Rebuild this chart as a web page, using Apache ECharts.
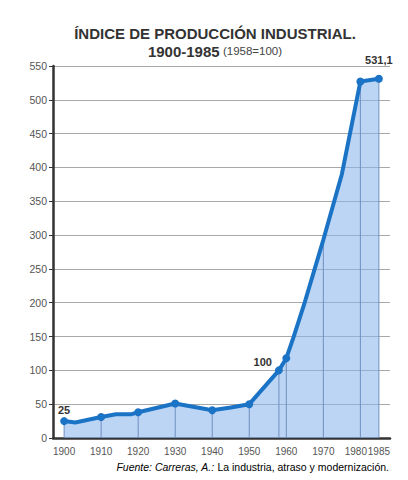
<!DOCTYPE html>
<html>
<head>
<meta charset="utf-8">
<script src="https://cdn.jsdelivr.net/npm/echarts@6/dist/echarts.min.js"></script>
<style>
html,body{margin:0;padding:0;background:#fff;}
#chart{width:408px;height:480px;}
</style>
</head>
<body>
<div id="chart"></div>
<script>
// ---- data ----
var years   = [1900, 1903, 1910, 1914, 1918, 1920, 1930, 1940, 1945, 1950, 1958, 1960, 1962, 1965, 1970, 1975, 1980, 1985];
var values  = [25,   23,   31,   35,   35,   38,   51,   41,   45,   50,   100,  118,  150,  201,  293,  390,  527,  531.1];
var markers = [1,    0,    1,    0,    0,    1,    1,    1,    0,    1,    1,    1,    0,    0,    0,    0,    1,    1];
var labeledYears = [1900, 1958, 1985];
var tickYears = [1900, 1910, 1920, 1930, 1940, 1950, 1960, 1970, 1980, 1985];
var yMin = 0, yMax = 550, yStep = 50;
var titleText = 'ÍNDICE DE PRODUCCIÓN INDUSTRIAL.';
var subtitleMain = '1900-1985';
var subtitleNote = '(1958=100)';
var sourceItalic = 'Fuente: Carreras, A.:';
var sourceText = 'La industria, atraso y modernización.';

// ---- build ----
var FONT = "'Liberation Sans', Arial, Helvetica, sans-serif";
var LINE = '#1b73c6';

var pts = years.map(function (y, i) { return [y, values[i]]; });

var lineData = years.map(function (y, i) {
  var item = { value: [y, values[i]] };
  item.symbol = markers[i] ? 'circle' : 'none';
  if (labeledYears.indexOf(y) >= 0) {
    var lbl = { show: true, fontFamily: FONT, fontWeight: 'bold', fontSize: 11, color: '#333',
      formatter: function (p) { return String(p.value[1]).replace('.', ','); } };
    if (y === 1958) { lbl.position = 'left'; lbl.distance = 3; lbl.offset = [0, -8]; }
    else if (y === 1985) { lbl.position = 'top'; lbl.distance = 9; }
    else { lbl.position = 'top'; lbl.distance = 2; }
    item.label = lbl;
  }
  return item;
});

var dropData = [];
years.forEach(function (y, i) {
  if (markers[i] || tickYears.indexOf(y) >= 0) dropData.push([y, values[i]]);
});

var chart = echarts.init(document.getElementById('chart'), null, { renderer: 'svg' });
chart.setOption({
  animation: false,
  backgroundColor: '#fff',
  textStyle: { fontFamily: FONT },
  grid: { left: 53, right: 18, top: 66, bottom: 42, containLabel: false },
  xAxis: {
    type: 'value', min: 1897, max: 1988,
    axisLine: { show: true, onZero: false, lineStyle: { color: '#333', width: 2.5 } },
    axisTick: { show: false },
    splitLine: { show: false },
    axisLabel: {
      customValues: tickYears, margin: 8, fontSize: 10, color: '#555', fontFamily: FONT,
      formatter: function (v) { return v === 1980 ? '{l|' + v + '}' : '{n|' + v + '}'; },
      rich: {
        l: { fontSize: 10, color: '#555', fontFamily: FONT, padding: [0, 9, 0, 0] },
        n: { fontSize: 10, color: '#555', fontFamily: FONT }
      }
    }
  },
  yAxis: {
    type: 'value', min: yMin, max: yMax, interval: yStep,
    axisLine: { show: true, lineStyle: { color: '#333', width: 2.5 } },
    axisTick: { show: true, length: 4, lineStyle: { color: '#333', width: 1 } },
    axisLabel: { fontSize: 10.5, color: '#555', margin: 6, fontFamily: FONT },
    splitLine: { show: true, lineStyle: { color: '#a8a8a8', width: 1 } }
  },
  series: [
    {
      type: 'line', data: pts, symbol: 'none', silent: true,
      lineStyle: { width: 0 },
      areaStyle: { color: 'rgba(135,180,235,0.8)', origin: 'start' },
      z: 2
    },
    {
      type: 'bar', data: dropData, barWidth: 1, silent: true,
      itemStyle: { color: '#6f8fbf' },
      z: 3
    },
    {
      type: 'line', data: lineData, symbolSize: 8,
      itemStyle: { color: LINE },
      lineStyle: { color: LINE, width: 4 },
      z: 4
    }
  ],
  graphic: [
    { type: 'text', x: 215, y: 33, style: { text: titleText, font: 'bold 15px ' + FONT, fill: '#333', textAlign: 'center', textVerticalAlign: 'middle' } },
    { type: 'text', x: 215, y: 51, style: {
        text: '{b|' + subtitleMain + '} {c|' + subtitleNote + '}',
        textAlign: 'center', textVerticalAlign: 'middle',
        rich: {
          b: { fontFamily: FONT, fontWeight: 'bold', fontSize: 15, fill: '#333', color: '#333' },
          c: { fontFamily: FONT, fontSize: 11.5, fill: '#444', color: '#444' }
        }
      } },
    { type: 'text', x: 389, y: 467, style: {
        text: '{i|' + sourceItalic + '} {n|' + sourceText + '}',
        textAlign: 'right', textVerticalAlign: 'middle',
        rich: {
          i: { fontFamily: FONT, fontStyle: 'italic', fontSize: 10.5, color: '#444' },
          n: { fontFamily: FONT, fontSize: 10.5, color: '#444' }
        }
      } }
  ]
});
</script>
</body>
</html>
